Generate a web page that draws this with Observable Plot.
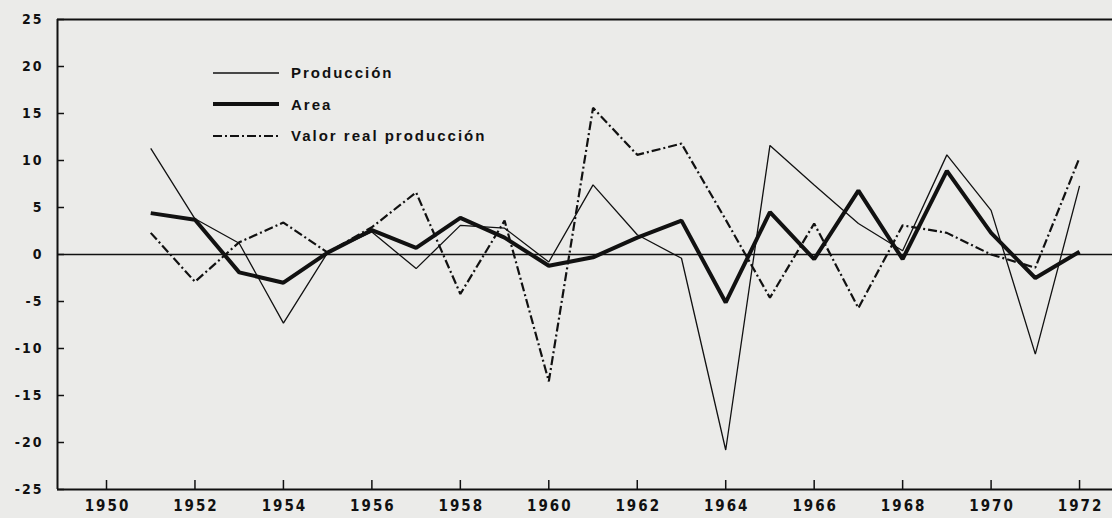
<!DOCTYPE html>
<html>
<head>
<meta charset="utf-8">
<script src="https://cdn.jsdelivr.net/npm/d3@7"></script>
<script src="https://cdn.jsdelivr.net/npm/@observablehq/plot@0.6"></script>
<style>
  html, body { margin: 0; padding: 0; background: #ebebe9; }
  #wrap { position: relative; width: 1112px; height: 518px; overflow: hidden; }
  #legend { position: absolute; left: 213px; top: 57px; font-family: "Liberation Sans", sans-serif; font-weight: bold; font-size: 15px; letter-spacing: 2px; color: #111; }
  #legend .row { display: flex; align-items: center; height: 31.5px; }
  #legend svg { margin-right: 12px; }
  #chart svg g[aria-label="x-axis tick label"] text { letter-spacing: 2px; font-size: 15px; font-family: "Liberation Sans Narrow", "DejaVu Sans Condensed", sans-serif; font-weight: bold; }
  #chart svg g[aria-label="y-axis tick label"] text { letter-spacing: 2px; font-size: 14px; font-family: "Liberation Sans Narrow", "DejaVu Sans Condensed", sans-serif; font-weight: bold; }
</style>
</head>
<body>
<div id="wrap"><div id="chart"></div><div id="legend"></div></div>
<script>
const years = [1951,1952,1953,1954,1955,1956,1957,1958,1959,1960,1961,1962,1963,1964,1965,1966,1967,1968,1969,1970,1971,1972];
const produccion = [11.3, 3.8, 1.2, -7.3, 0.2, 2.4, -1.5, 3.1, 2.8, -0.8, 7.4, 2.1, -0.4, -20.8, 11.6, 7.4, 3.3, 0.4, 10.6, 4.7, -10.6, 7.3];
const area = [4.4, 3.7, -1.9, -3.0, 0.2, 2.6, 0.7, 3.9, 1.8, -1.2, -0.3, 1.8, 3.6, -5.1, 4.5, -0.5, 6.8, -0.5, 8.9, 2.3, -2.5, 0.3];
const valorReal = [2.3, -2.9, 1.3, 3.4, 0.2, 2.9, 6.6, -4.2, 3.6, -13.5, 15.6, 10.6, 11.8, 3.7, -4.6, 3.3, -5.7, 3.1, 2.3, 0.0, -1.4, 10.3];
const xTicks = [1950,1952,1954,1956,1958,1960,1962,1964,1966,1968,1970,1972];
const yTicks = [25,20,15,10,5,0,-5,-10,-15,-20,-25];
const seriesNames = ["Producción", "Area", "Valor real producción"];

const xDomain = [1948.892, 1972.745];
const yDomain = [-25, 25];
const ink = "#111";

const styles = [
  {stroke: ink, strokeWidth: 1.3},
  {stroke: ink, strokeWidth: 4},
  {stroke: ink, strokeWidth: 2.2, strokeDasharray: "9,3,2,3"}
];
const seriesValues = [produccion, area, valorReal];
const lineMarks = seriesValues.map((vals, i) =>
  Plot.line(years.map((y, j) => ({year: y, value: vals[j]})),
    {x: "year", y: "value", ...styles[i], strokeLinejoin: "miter", strokeLinecap: "butt"}));

const font = "Liberation Sans, sans-serif";
const plot = Plot.plot({
  width: 1112,
  height: 518,
  marginLeft: 57,
  marginRight: 0,
  marginTop: 19,
  marginBottom: 29,
  style: {background: "#ebebe9", fontFamily: font, color: ink},
  x: {domain: xDomain, label: null},
  y: {domain: yDomain, label: null},
  marks: [
    Plot.ruleY([0], {stroke: ink, strokeWidth: 1.4}),
    ...lineMarks,
    Plot.ruleY([yDomain[1]], {stroke: ink, strokeWidth: 2}),
    Plot.ruleY([yDomain[0]], {stroke: ink, strokeWidth: 2}),
    Plot.ruleX([xDomain[0]], {stroke: ink, strokeWidth: 2}),
    // inward ticks
    Plot.axisY({ticks: yTicks, tickSize: 7, dx: 7, tickFormat: () => "", label: null, stroke: ink, strokeWidth: 1.5}),
    Plot.axisX({ticks: xTicks, tickSize: 9, dy: -9, tickFormat: () => "", label: null, stroke: ink, strokeWidth: 1.5}),
    // labels
    Plot.axisY({ticks: yTicks, tickSize: 0, tickPadding: 14, tickFormat: d => String(d), label: null,
      fontSize: 14, fontWeight: "bold", fill: ink}),
    Plot.axisX({ticks: xTicks, tickSize: 0, tickPadding: 11, tickFormat: d => String(d), label: null,
      fontSize: 15, fontWeight: "bold", fill: ink, dx: 1})
  ]
});
document.getElementById("chart").appendChild(plot);

// legend
const legend = document.getElementById("legend");
seriesNames.forEach((name, i) => {
  const row = document.createElement("div");
  row.className = "row";
  const s = styles[i];
  row.innerHTML = `<svg width="66" height="8"><line x1="0" x2="66" y1="4" y2="4" stroke="${s.stroke}" stroke-width="${s.strokeWidth}" ${s.strokeDasharray ? `stroke-dasharray="${s.strokeDasharray}"` : ""}/></svg><span>${name}</span>`;
  legend.appendChild(row);
});
</script>
</body>
</html>
